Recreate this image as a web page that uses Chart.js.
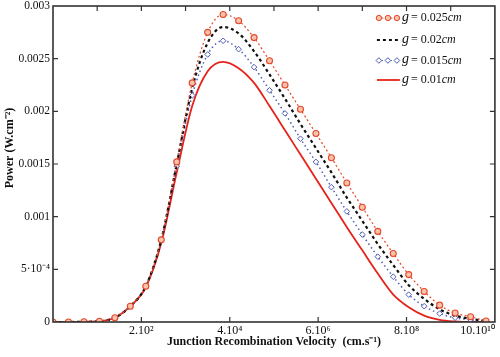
<!DOCTYPE html>
<html>
<head>
<meta charset="utf-8">
<script src="https://cdn.jsdelivr.net/npm/chart.js@4.4.1/dist/chart.umd.min.js"></script>
<style>
html,body{margin:0;padding:0;background:#fff;}
canvas{display:block;}
</style>
</head>
<body>
<canvas id="c" width="500" height="357"></canvas>
<script>
// ---- data ----
const xValues = [0,0.35,0.7,1.05,1.4,1.75,2.1,2.45,2.8,3.15,3.5,3.85,4.2,4.55,4.9,5.25,5.6,5.95,6.3,6.65,7.0,7.35,7.7,8.05,8.4,8.75,9.1,9.45,9.8];
const g025 = [0,0,0.000002,0.000007,0.00004,0.00015,0.00034,0.00078,0.00152,0.00227,0.00275,0.00292,0.00286,0.0027,0.00248,0.00225,0.00202,0.00179,0.00156,0.00132,0.00109,0.00086,0.00065,0.00045,0.00029,0.00016,0.000085,0.00005,0.00001];
const g020 = [0,0,0.000002,0.000007,0.00004,0.00015,0.00034,0.00078,0.0015,0.00222,0.00265,0.0028,0.00274,0.00257,0.00235,0.00212,0.00188,0.00165,0.00142,0.00118,0.00096,0.00074,0.00054,0.00035,0.00022,0.00012,0.00006,0.00003,0.00001];
const g015 = [0,0,0.000002,0.000007,0.00004,0.00015,0.00034,0.00077,0.00148,0.00215,0.00254,0.00267,0.00259,0.00242,0.0022,0.00198,0.00174,0.00152,0.00128,0.00105,0.00083,0.00062,0.00043,0.00026,0.00015,0.00008,0.00004,0.00002,0.000005];
const g010 = [0,0,0.000002,0.000007,0.00004,0.00015,0.00033,0.00075,0.00142,0.00205,0.00238,0.00247,0.00241,0.00227,0.00205,0.00182,0.00159,0.00136,0.00113,0.0009,0.00068,0.00046,0.00026,0.00014,0.00006,0.00002,0.000005,0,0];
const seriesNames = ['0.025','0.02','0.015','0.01'];
const xTickValues = [0,2,4,6,8,10];
const xTickLabels = ['','2.10²','4.10⁴','6.10⁶','8.10⁸','10.10¹⁰'];
const xMinorTicks = [1,2,3,4,5,6,7,8,9];
const yTickValues = [0,0.0005,0.001,0.0015,0.002,0.0025,0.003];
const yTickLabels = ['0','5·10⁻⁴','0.001','0.0015','0.002','0.0025','0.003'];
const xTitle = 'Junction Recombination Velocity  (cm.s⁻¹)';
const yTitle = 'Power (W.cm⁻²)';

const SERIF = "'Liberation Serif','Times New Roman',serif";
const pts = arr => xValues.map((x,i)=>({x:x, y:arr[i]}));

const C_CIRC = '#e4482a', C_BLUE = '#4d5db5', C_BLACK = '#111111', C_RED = '#e5231b';

const datasets = [
  {label:seriesNames[0], data:pts(g025), borderColor:C_CIRC, borderWidth:1.2, borderDash:[2,2.5],
   pointStyle:'circle', pointRadius:3, pointBorderWidth:1.1, pointBorderColor:C_CIRC, pointBackgroundColor:'#f8c2ab'},
  {label:seriesNames[1], data:pts(g020), borderColor:C_BLACK, borderWidth:2.2, borderDash:[3,3], pointRadius:0},
  {label:seriesNames[2], data:pts(g015), borderColor:C_BLUE, borderWidth:1.5, borderDash:[1.5,3],
   pointStyle:'rectRot', pointRadius:2.8, pointBorderWidth:1, pointBorderColor:C_BLUE, pointBackgroundColor:'#ffffff'},
  {label:seriesNames[3], data:pts(g010), borderColor:C_RED, borderWidth:1.8, pointRadius:0}
];

const deco = {
  id:'deco',
  afterDatasetsDraw(chart){
    const ctx = chart.ctx, ca = chart.chartArea, xs = chart.scales.x, ys = chart.scales.y;
    ctx.save();
    // frame
    ctx.strokeStyle = '#333'; ctx.lineWidth = 1.6;
    ctx.strokeRect(ca.left, ca.top, ca.right-ca.left, ca.bottom-ca.top);
    ctx.lineWidth = 1.2;
    ctx.beginPath();
    xTickValues.slice(1,-1).forEach(v=>{ const p = xs.getPixelForValue(v); ctx.moveTo(p, ca.bottom); ctx.lineTo(p, ca.bottom-5); });
    xMinorTicks.forEach(v=>{ const p = xs.getPixelForValue(v); ctx.moveTo(p, ca.top); ctx.lineTo(p, ca.top+5); });
    yTickValues.slice(1,-1).forEach(v=>{ const p = ys.getPixelForValue(v);
      ctx.moveTo(ca.left, p); ctx.lineTo(ca.left+5, p); ctx.moveTo(ca.right, p); ctx.lineTo(ca.right-5, p); });
    ctx.stroke();
    // y title
    ctx.fillStyle = '#111';
    ctx.font = 'bold 12px ' + SERIF;
    ctx.textAlign = 'center'; ctx.textBaseline = 'middle';
    ctx.translate(10, (ca.top+ca.bottom)/2 - 16);
    ctx.rotate(-Math.PI/2);
    ctx.fillText(yTitle, 0, 0);
    ctx.restore();

    // legend
    ctx.save();
    const sx = ca.right - 118, tx = ca.right - 93;
    const rows = [ca.top+12, ca.top+34, ca.top+54.5, ca.top+74];
    chart.data.datasets.forEach((ds,i)=>{
      const y = rows[i];
      ctx.strokeStyle = ds.borderColor;
      if (i===0 || i===2){
        ctx.lineWidth = 1; ctx.setLineDash(ds.borderDash||[]);
        ctx.beginPath(); ctx.moveTo(sx, y); ctx.lineTo(sx+22, y); ctx.stroke(); ctx.setLineDash([]);
        [sx+2, sx+11, sx+20].forEach(px=>{
          ctx.beginPath();
          if (ds.pointStyle==='circle'){ ctx.arc(px, y, 2.7, 0, Math.PI*2); }
          else { ctx.moveTo(px, y-2.8); ctx.lineTo(px+2.8, y); ctx.lineTo(px, y+2.8); ctx.lineTo(px-2.8, y); ctx.closePath(); }
          ctx.fillStyle = ds.pointBackgroundColor; ctx.fill();
          ctx.lineWidth = 1; ctx.strokeStyle = ds.pointBorderColor; ctx.stroke();
        });
      } else {
        ctx.lineWidth = ds.borderWidth; ctx.setLineDash(ds.borderDash||[]);
        ctx.beginPath(); ctx.moveTo(sx, y); ctx.lineTo(sx+23, y); ctx.stroke(); ctx.setLineDash([]);
      }
      // text: g = value cm
      ctx.fillStyle = '#111'; ctx.textAlign = 'left'; ctx.textBaseline = 'middle';
      let x = tx;
      ctx.font = 'italic 14px ' + SERIF; ctx.fillText('g', x, y-1); x += ctx.measureText('g').width + 2;
      ctx.font = '12px ' + SERIF; const mid = '= ' + ds.label; ctx.fillText(mid, x, y); x += ctx.measureText(mid).width;
      ctx.font = 'italic 12px ' + SERIF; ctx.fillText('cm', x, y);
    });
    ctx.restore();
  }
};

new Chart(document.getElementById('c'), {
  type:'line',
  data:{datasets},
  options:{
    responsive:false, animation:false, devicePixelRatio:1,
    layout:{padding:{top:6, right:4, left:0, bottom:0}},
    elements:{line:{cubicInterpolationMode:'monotone', fill:false}},
    plugins:{legend:{display:false}, tooltip:{enabled:false}},
    scales:{
      x:{type:'linear', min:0, max:10,
        afterBuildTicks:s=>{ s.ticks = xTickValues.map(v=>({value:v})); },
        afterFit:s=>{ s.height = 35; s.paddingLeft = 0; s.paddingRight = 0; },
        grid:{display:false, drawTicks:false}, border:{display:false},
        ticks:{align:'inner', padding:2, maxRotation:0, autoSkip:false, color:'#111', font:{family:SERIF, size:12},
          callback:(v,i)=>xTickLabels[i]},
        title:{display:true, text:xTitle, color:'#111', font:{family:SERIF, size:12, weight:'bold'}, padding:{top:0,bottom:8}}
      },
      y:{type:'linear', min:0, max:0.003,
        afterBuildTicks:s=>{ s.ticks = yTickValues.map(v=>({value:v})); },
        afterFit:s=>{ s.width = 53; s.paddingTop = 0; s.paddingBottom = 0; },
        grid:{display:false, drawTicks:false}, border:{display:false},
        ticks:{padding:3, autoSkip:false, color:'#111', font:{family:SERIF, size:11.5},
          callback:(v,i)=>yTickLabels[i]}
      }
    }
  },
  plugins:[deco]
});
</script>
</body>
</html>
